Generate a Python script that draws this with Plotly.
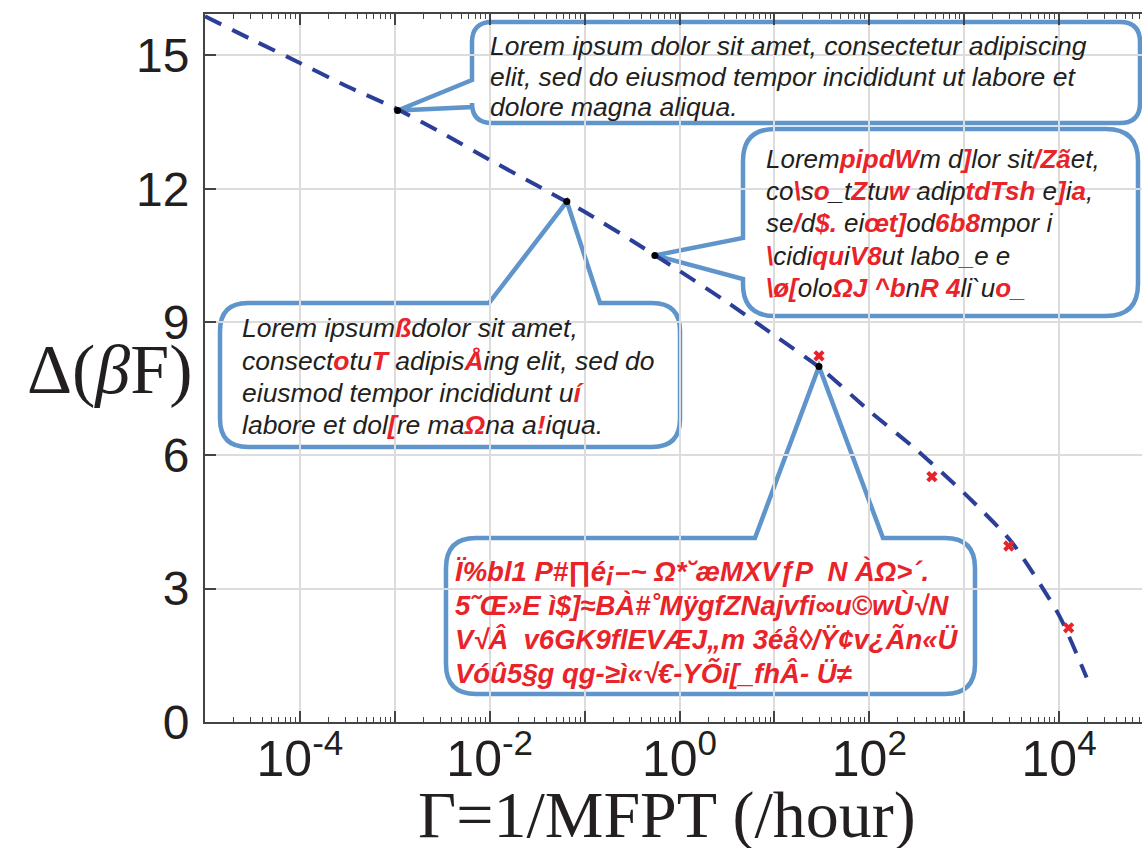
import math
import plotly.graph_objects as go

# ---------------- data ----------------
curve_gamma = [1.0e-5, 3.16e-5, 1.0e-4, 3.16e-4, 1.0e-3, 3.16e-3, 1.0e-2, 3.16e-2,
               0.1, 0.316, 1.0, 3.16, 10.0, 31.6, 100.0, 316.0, 1000.0, 3160.0,
               1.0e4, 1.95e4]
curve_dF = [15.88, 15.35, 14.83, 14.30, 13.82, 13.25, 12.65, 12.07,
            11.48, 10.83, 10.15, 9.45, 8.70, 7.94, 7.00, 6.12, 5.15, 4.05,
            2.40, 1.00]

dot_gamma = [1.07e-3, 0.065, 0.55, 29.5]
dot_dF = [13.76, 11.71, 10.50, 8.00]

exp_gamma = [29.5, 457.0, 2950.0, 12600.0]
exp_dF = [8.24, 5.52, 3.96, 2.12]

x_tick_exponents = [-5, -4, -3, -2, -1, 0, 1, 2, 3, 4]
x_tick_labels = ["", "10<sup>-4</sup>", "", "10<sup>-2</sup>", "", "10<sup>0</sup>",
                 "", "10<sup>2</sup>", "", "10<sup>4</sup>"]
y_ticks = [0, 3, 6, 9, 12, 15]

RED = "#E8242A"
BLUE_LINE = "#2C3F98"
BOX = "#5F95CA"


def r(s):
    return '<span style="color:%s"><b>%s</b></span>' % (RED, s)


box1_lines = ["Lorem ipsum dolor sit amet, consectetur adipiscing",
              "elit, sed do eiusmod tempor incididunt ut labore et",
              "dolore magna aliqua."]
box2_lines = ["Lorem" + r("pipdW") + "m d" + r("]") + "lor sit" + r("/Zã") + "et,",
              "co" + r("\\") + "s" + r("o") + "_t" + r("Z") + "tu" + r("w") + " adip" + r("tdTsh") + " e" + r("]") + "i" + r("a") + ",",
              "se" + r("/") + "d" + r("$.") + " ei" + r("œt]") + "od" + r("6b8") + "mpor i",
              r("\\") + "cidi" + r("qu") + "i" + r("V8") + "ut labo" + r("_") + "e e",
              r("\\ø[") + "olo" + r("ΩJ ^b") + "n" + r("R 4") + "li`u" + r("o_")]
box3_lines = ["Lorem ipsum" + r("ß") + "dolor sit amet,",
              "consect" + r("o") + "tu" + r("T") + " adipis" + r("Å") + "ing elit, sed do",
              "eiusmod tempor incididunt u" + r("í"),
              "labore et dol" + r("[") + "re ma" + r("Ω") + "na a" + r("!") + "iqua."]
box4_lines = [r("Ï%bl1 P#∏é¡–~ Ω*˘æMXVƒP  N ÀΩ>´."),
              r("5˜Œ»E ì$]≈BÀ#˚MÿgfZNajvfi∞u©wÙ√N"),
              r("V√Â  v6GK9ﬂEVÆJ„m 3éå◊/Ÿ¢v¿Ãn«Ü"),
              r("Vóû5§g qg-≥ì«√€-YÕi[_fhÂ- Ü≠")]

# ---------------- layout geometry ----------------
W, H = 1142, 848
ML, MT = 205, 14
PW, PH = 937, 708
XR = [-5.0, -5.0 + PW / 94.9]
YR = [0.0, PH / 44.44]


def px(X):
    return (X - ML) / PW


def py(Y):
    return (MT + PH - Y) / PH


def data_px(g, v):
    X = ML + (math.log10(g) - XR[0]) / (XR[1] - XR[0]) * PW
    Y = MT + PH - (v - YR[0]) / (YR[1] - YR[0]) * PH
    return X, Y


def callout(L, T, R, B, rad, side, a, b, tip):
    tx, ty = tip

    def P(X, Y):
        return "%.5f,%.5f" % (px(X), py(Y))

    s = "M " + P(L + rad, T)
    if side == "top":
        s += " L " + P(a, T) + " L " + P(tx, ty) + " L " + P(b, T)
    s += " L " + P(R - rad, T) + " Q " + P(R, T) + " " + P(R, T + rad)
    s += " L " + P(R, B - rad) + " Q " + P(R, B) + " " + P(R - rad, B)
    s += " L " + P(L + rad, B) + " Q " + P(L, B) + " " + P(L, B - rad)
    if side == "left":
        s += " L " + P(L, b) + " L " + P(tx, ty) + " L " + P(L, a)
    s += " L " + P(L, T + rad) + " Q " + P(L, T) + " " + P(L + rad, T) + " Z"
    return dict(type="path", xref="paper", yref="paper", path=s,
                fillcolor="white", line=dict(color=BOX, width=4.5), layer="between")


tips = [data_px(g, v) for g, v in zip(dot_gamma, dot_dF)]

shapes = [
    callout(472, 22, 1140, 123, 20, "left", 80, 107, tips[0]),
    callout(743, 129, 1138, 316, 32, "left", 238, 279, tips[2]),
    callout(220, 303, 680, 447, 28, "top", 489, 600, tips[1]),
    callout(446, 538, 975, 694, 30, "top", 755, 883, tips[3]),
]

fig = go.Figure()
fig.add_trace(go.Scatter(x=curve_gamma, y=curve_dF, mode="lines",
                         line=dict(color=BLUE_LINE, width=4, dash="18px,12px",
                                   shape="spline", smoothing=0.6),
                         hoverinfo="skip", showlegend=False))
fig.add_trace(go.Scatter(x=exp_gamma, y=exp_dF, mode="markers",
                         marker=dict(symbol="x", size=10, color=RED, line=dict(width=0)),
                         showlegend=False))
fig.add_trace(go.Scatter(x=dot_gamma, y=dot_dF, mode="markers",
                         marker=dict(symbol="circle", size=7, color="black"),
                         showlegend=False))

minor_vals = [k * 10.0 ** d for d in range(-5, 5) for k in range(2, 10)
              if math.log10(k * 10.0 ** d) < XR[1]]

fig.update_xaxes(type="log", range=XR,
                 tickvals=[10.0 ** e for e in x_tick_exponents], ticktext=x_tick_labels,
                 ticks="inside", ticklen=11, tickwidth=1.5, tickcolor="#444",
                 showline=True, linecolor="#444", linewidth=2, mirror="allticks",
                 showgrid=True, gridcolor="#DCDCDC", gridwidth=1.5,
                 zeroline=False, ticklabelstandoff=-8,
                 tickfont=dict(family="Liberation Sans", size=50, color="#231F20"),
                 minor=dict(tickvals=minor_vals, ticks="inside", ticklen=5,
                            tickwidth=1.2, tickcolor="#444", showgrid=False))
fig.update_yaxes(range=YR, tickvals=y_ticks,
                 ticks="inside", ticklen=11, tickwidth=1.5, tickcolor="#444",
                 showline=True, linecolor="#444", linewidth=2, mirror=False,
                 showgrid=True, gridcolor="#DCDCDC", gridwidth=1.5,
                 zeroline=False, ticklabelstandoff=4,
                 tickfont=dict(family="Liberation Sans", size=48, color="#231F20"))

ann = []


def add_lines(lines, X, centers, size):
    for t, yc in zip(lines, centers):
        ann.append(dict(text=t, xref="paper", yref="paper", x=px(X), y=py(yc),
                        xanchor="left", yanchor="middle", align="left", showarrow=False,
                        borderpad=0,
                        font=dict(family="Liberation Sans", size=size, color="#231F20",
                                  style="italic")))


add_lines(box1_lines, 489, [46, 77, 107], 26.5)
add_lines(box2_lines, 765, [159, 191, 223, 256, 288], 26)
add_lines(box3_lines, 241, [328, 361, 393, 425], 26.5)
add_lines(box4_lines, 454, [571, 605, 639, 673], 27.5)

ann.append(dict(text="Δ(<i>β</i>F)", xref="paper", yref="paper",
                x=px(194), y=py(370), xanchor="right", yanchor="middle",
                showarrow=False,
                font=dict(family="Liberation Serif", size=70, color="#231F20")))
ann.append(dict(text="Γ=1/MFPT (/hour)", xref="paper", yref="paper",
                x=px(667), y=py(815), xanchor="center", yanchor="middle",
                showarrow=False,
                font=dict(family="Liberation Serif", size=66, color="#231F20")))

fig.update_layout(width=W, height=H, margin=dict(l=ML, r=W - ML - PW, t=MT, b=H - MT - PH),
                  paper_bgcolor="white", plot_bgcolor="white",
                  shapes=shapes, annotations=ann, showlegend=False)

fig.write_html("out.html")
